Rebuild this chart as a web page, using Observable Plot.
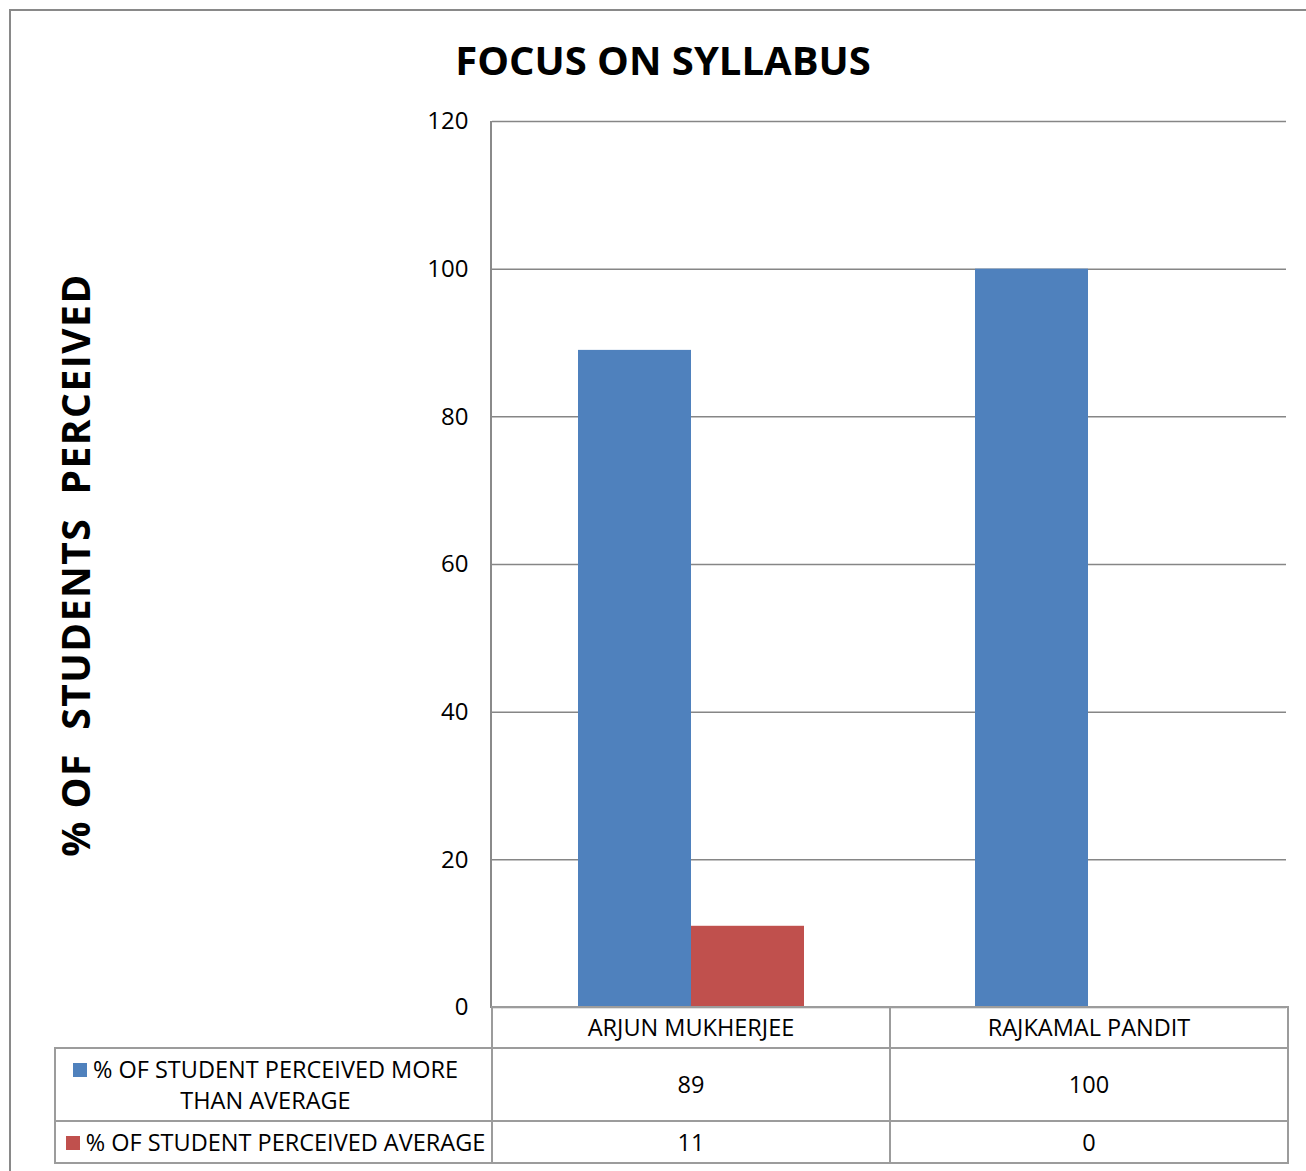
<!DOCTYPE html>
<html><head><meta charset="utf-8">
<script src="https://cdn.jsdelivr.net/npm/d3@7"></script>
<script src="https://cdn.jsdelivr.net/npm/@observablehq/plot@0.6"></script>
<style>
body{margin:0;background:#fff;font-family:"Open Sans",sans-serif;color:#000}
#wrap{position:relative;width:1306px;height:1171px;overflow:hidden;background:#fff}
#frame{position:absolute;left:9px;top:9px;width:1400px;height:1300px;border:2px solid #898989;}
#title{position:absolute;left:10px;width:1306px;top:36px;text-align:center;font-weight:bold;font-size:40px;line-height:48px}
#ylabel{position:absolute;left:75px;top:565px;transform:translate(-50%,-50%) rotate(-90deg);white-space:pre;font-weight:bold;font-size:39px;letter-spacing:1.5px;line-height:44px}
#chart{position:absolute;left:0;top:0}
#axisline{position:absolute;left:490px;top:121px;width:2px;height:887px;background:#8a8a8a}
table{position:absolute;left:54px;top:1006px;border-collapse:collapse;table-layout:fixed;font-size:23.5px;}
td{border:2px solid #9c9c9c;text-align:center;padding:0;line-height:31px}
.sw{display:inline-block;width:14px;height:14px;margin-right:6px;vertical-align:1px}
</style>
</head><body>
<div id="wrap">
  <div id="frame"></div>
  <div id="chart"></div>
  <div id="axisline"></div>
  <div id="title"></div>
  <div id="ylabel"></div>
  <table id="tbl"></table>
</div>
<script>
const title = "FOCUS ON SYLLABUS";
const yLabel = "% OF  STUDENTS  PERCEIVED";
const categories = ["ARJUN MUKHERJEE", "RAJKAMAL PANDIT"];
const seriesNames = ["% OF STUDENT PERCEIVED MORE THAN AVERAGE", "% OF STUDENT PERCEIVED AVERAGE"];
const moreThanAverage = [89, 100];
const average = [11, 0];
const seriesValues = [moreThanAverage, average];
const yTicks = [0, 20, 40, 60, 80, 100, 120];
const colors = ["#4F81BD", "#C0504D"];

const data = categories.flatMap((c, i) =>
  seriesNames.map((s, j) => ({category: c, series: s, value: seriesValues[j][i]}))
);

document.getElementById("title").textContent = title;
document.getElementById("ylabel").textContent = yLabel;

const chart = Plot.plot({
  width: 1306,
  height: 1030,
  marginTop: 121,
  marginLeft: 491,
  marginRight: 20,
  marginBottom: 23,
  style: {fontFamily: "Open Sans", fontSize: "24px", color: "#000", background: "transparent"},
  fx: {domain: categories, padding: 0, axis: null},
  x: {domain: seriesNames, paddingInner: 0, paddingOuter: 0.75, axis: null},
  y: {domain: [0, 120]},
  color: {domain: seriesNames, range: colors},
  marks: [
    Plot.gridY(yTicks, {stroke: "#868686", strokeOpacity: 1, strokeWidth: 1.5}),
    Plot.axisY(yTicks, {tickSize: 0, tickPadding: 24, fontSize: 24, label: null}),
    Plot.barY(data, {fx: "category", x: "series", y: "value", fill: "series"})
  ]
});
document.getElementById("chart").appendChild(chart);

// data table
const tbl = document.getElementById("tbl");
const colgroup = document.createElement("colgroup");
[437, 398, 398].forEach(w => { const c = document.createElement("col"); c.style.width = w + "px"; colgroup.appendChild(c); });
tbl.appendChild(colgroup);
tbl.style.width = "1233px";

const head = document.createElement("tr");
head.style.height = "41px";
const blank = document.createElement("td");
blank.style.borderTop = "none"; blank.style.borderLeft = "none";
head.appendChild(blank);
categories.forEach(c => { const td = document.createElement("td"); td.textContent = c; head.appendChild(td); });
tbl.appendChild(head);

const rowHeights = [73, 42];
const rowPadding = ["0 18px 0 2px", "0 2px 0 6px"];
seriesNames.forEach((s, j) => {
  const tr = document.createElement("tr");
  tr.style.height = rowHeights[j] + "px";
  const th = document.createElement("td");
  th.style.padding = rowPadding[j];
  const sw = document.createElement("span");
  sw.className = "sw"; sw.style.background = colors[j];
  th.appendChild(sw);
  th.appendChild(document.createTextNode(s));
  tr.appendChild(th);
  seriesValues[j].forEach(v => { const td = document.createElement("td"); td.textContent = v; tr.appendChild(td); });
  tbl.appendChild(tr);
});
</script>
</body></html>
